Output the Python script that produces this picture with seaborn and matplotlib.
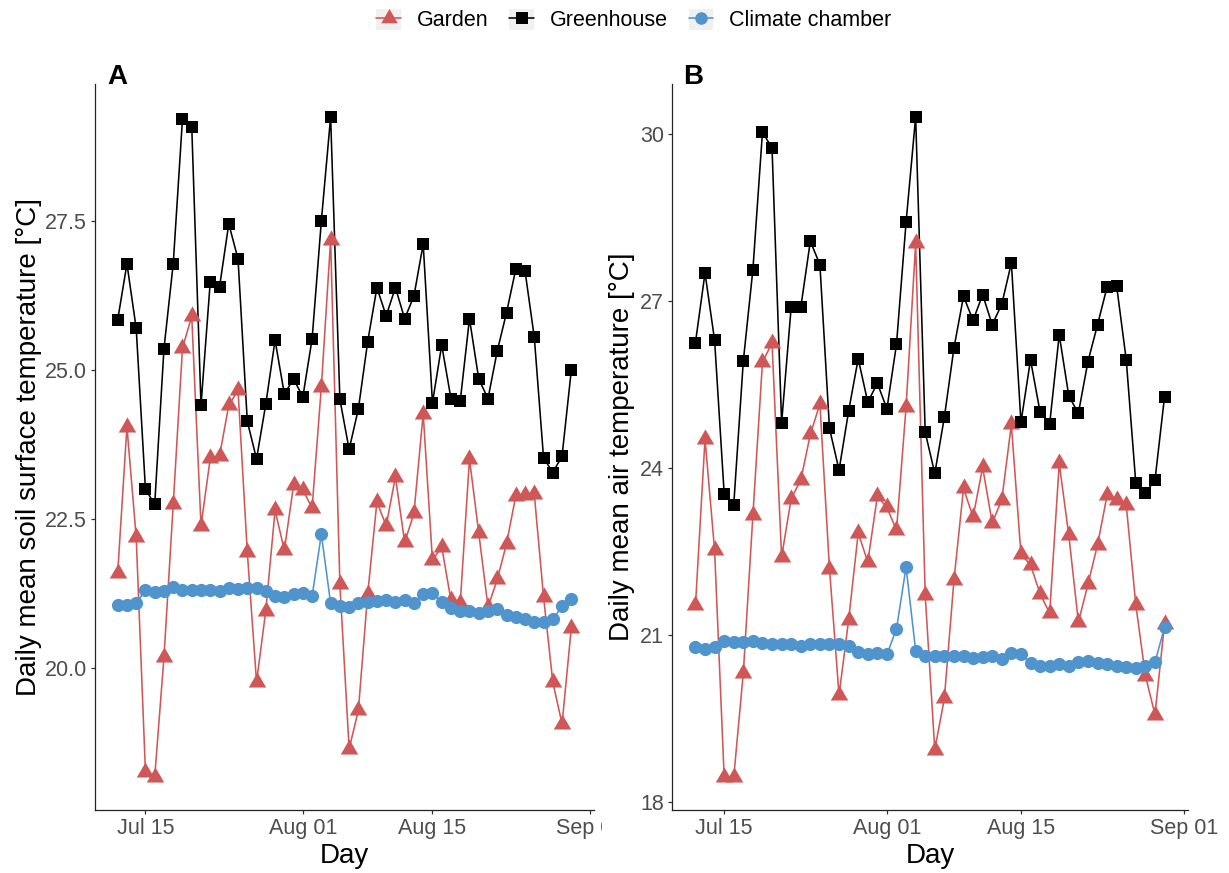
import numpy as np
import pandas as pd
import matplotlib
matplotlib.use("Agg")
import matplotlib.pyplot as plt
import matplotlib.dates as mdates
from matplotlib.lines import Line2D
from matplotlib.patches import Rectangle
from matplotlib.legend_handler import HandlerLine2D
from matplotlib.transforms import Bbox, TransformedBbox
import seaborn as sns

# ---------------- data ----------------
start_date = "2021-07-12"
end_date = "2021-08-30"
series_names = ["Garden", "Greenhouse", "Climate chamber"]

soil_garden = [21.6, 24.05, 22.2, 18.26, 18.18, 20.19, 22.75, 25.37, 25.9, 22.39,
               23.52, 23.56, 24.41, 24.66, 21.95, 19.77, 20.97, 22.65, 21.98, 23.07,
               22.99, 22.69, 24.72, 27.18, 21.41, 18.65, 19.30, 21.24, 22.79, 22.39,
               23.21, 22.11, 22.6, 24.27, 21.81, 22.04, 21.14, 21.09, 23.51, 22.27,
               21.03, 21.49, 22.09, 22.89, 22.9, 22.92, 21.2, 19.77, 19.07, 20.68]
soil_greenhouse = [25.84, 26.78, 25.70, 23.0, 22.75, 25.36, 26.78, 29.21, 29.08, 24.41,
                   26.48, 26.39, 27.45, 26.86, 24.14, 23.51, 24.43, 25.50, 24.60, 24.85,
                   24.55, 25.52, 27.50, 29.24, 24.51, 23.67, 24.35, 25.47, 26.38, 25.91,
                   26.38, 25.86, 26.24, 27.11, 24.45, 25.42, 24.52, 24.48, 25.86, 24.85,
                   24.52, 25.32, 25.96, 26.69, 26.66, 25.55, 23.53, 23.28, 23.56, 25.0]
soil_chamber = [21.06, 21.07, 21.09, 21.31, 21.28, 21.30, 21.36, 21.31, 21.31, 21.32,
                21.32, 21.30, 21.34, 21.33, 21.34, 21.35, 21.30, 21.22, 21.20, 21.25,
                21.26, 21.21, 22.25, 21.09, 21.04, 21.03, 21.10, 21.12, 21.13, 21.14,
                21.12, 21.15, 21.10, 21.24, 21.27, 21.12, 21.01, 20.97, 20.97, 20.92,
                20.97, 21.00, 20.89, 20.86, 20.82, 20.78, 20.78, 20.82, 21.04, 21.17]

air_garden = [21.53, 24.52, 22.52, 18.45, 18.45, 20.32, 23.15, 25.90, 26.24, 22.40,
              23.45, 23.78, 24.60, 25.15, 22.19, 19.92, 21.27, 22.83, 22.31, 23.49,
              23.29, 22.88, 25.09, 28.03, 21.71, 18.94, 19.86, 21.98, 23.63, 23.12,
              24.01, 23.01, 23.43, 24.78, 22.45, 22.26, 21.74, 21.39, 24.08, 22.79,
              21.23, 21.91, 22.62, 23.51, 23.43, 23.33, 21.54, 20.27, 19.57, 21.20]
air_greenhouse = [26.25, 27.5, 26.29, 23.54, 23.34, 25.92, 27.56, 30.03, 29.74, 24.81,
                  26.89, 26.88, 28.07, 27.65, 24.71, 23.96, 25.02, 25.96, 25.18, 25.52,
                  25.06, 26.22, 28.41, 30.30, 24.64, 23.90, 24.91, 26.15, 27.08, 26.65,
                  27.11, 26.57, 26.94, 27.68, 24.82, 25.94, 25.0, 24.79, 26.39, 25.29,
                  24.98, 25.91, 26.57, 27.25, 27.26, 25.94, 23.72, 23.55, 23.78, 25.28]
air_chamber = [20.78, 20.75, 20.78, 20.90, 20.87, 20.88, 20.90, 20.86, 20.84, 20.84,
               20.84, 20.81, 20.84, 20.84, 20.84, 20.83, 20.80, 20.69, 20.66, 20.67,
               20.65, 21.11, 22.22, 20.72, 20.63, 20.63, 20.63, 20.63, 20.62, 20.59,
               20.60, 20.62, 20.56, 20.67, 20.66, 20.50, 20.45, 20.45, 20.47, 20.45,
               20.51, 20.54, 20.50, 20.47, 20.44, 20.42, 20.41, 20.44, 20.51, 21.14]

x_ticks = ["2021-07-15", "2021-08-01", "2021-08-15", "2021-09-01"]
soil_yticks = [20.0, 22.5, 25.0, 27.5]
air_yticks = [18, 21, 24, 27, 30]

# ---------------- style ----------------
sns.set_theme(style="white")
plt.rcParams["font.family"] = ["Liberation Sans", "DejaVu Sans"]
plt.rcParams["text.color"] = "black"

colors = {"Garden": "#CF5757", "Greenhouse": "#000000", "Climate chamber": "#4F94CD"}
tri = [(0.0, 1.0), (-0.866, -0.5), (0.866, -0.5)]
markers = {"Garden": tri, "Greenhouse": "s", "Climate chamber": "o"}
msize = {"Garden": 14.5, "Greenhouse": 9.0, "Climate chamber": 9.5}

dates = pd.date_range(start_date, end_date, freq="D")

W, H = 1229, 873
fig = plt.figure(figsize=(W / 100, H / 100), dpi=100)
fig.patch.set_facecolor("white")

axA = fig.add_axes([95 / W, 63 / H, 499 / W, 726 / H])
axB = fig.add_axes([672 / W, 63 / H, 516 / W, 726 / H])

panels = [
    (axA, {"Garden": soil_garden, "Greenhouse": soil_greenhouse, "Climate chamber": soil_chamber},
     "Daily mean soil surface temperature [°C]", soil_yticks, "%.1f"),
    (axB, {"Garden": air_garden, "Greenhouse": air_greenhouse, "Climate chamber": air_chamber},
     "Daily mean air temperature [°C]", air_yticks, "%d"),
]

for ax, data, ylab, yticks, fmt in panels:
    df = pd.DataFrame({"Day": np.tile(dates, 3),
                       "Temp": np.concatenate([data[n] for n in series_names]),
                       "Site": np.repeat(series_names, len(dates))})
    for n in series_names:
        sub = df[df["Site"] == n]
        sns.lineplot(data=sub, x="Day", y="Temp", ax=ax, color=colors[n],
                     linewidth=1.15, zorder=2, legend=False)
    for n in series_names:
        sub = df[df["Site"] == n]
        sns.scatterplot(data=sub, x="Day", y="Temp", ax=ax, color=colors[n],
                        marker=markers[n], s=msize[n] ** 2, linewidth=0,
                        zorder=3, legend=False)
    vals = np.concatenate([data[n] for n in series_names])
    lo, hi = vals.min(), vals.max()
    pad = 0.05 * (hi - lo)
    ax.set_ylim(lo - pad, hi + pad)
    span = (dates[-1] - dates[0]) * 0.05
    ax.set_xlim(dates[0] - span, dates[-1] + span)
    ax.set_xticks(pd.to_datetime(x_ticks))
    ax.xaxis.set_major_formatter(mdates.DateFormatter("%b %d"))
    ax.set_yticks(yticks)
    ax.yaxis.set_major_formatter(matplotlib.ticker.FormatStrFormatter(fmt))
    for s in ["top", "right"]:
        ax.spines[s].set_visible(False)
    for s in ["left", "bottom"]:
        ax.spines[s].set_color("#222222")
        ax.spines[s].set_linewidth(0.9)
    ax.tick_params(axis="both", length=3.2, width=0.9, color="#333333",
                   labelcolor="#4D4D4D", labelsize=15.5, pad=2.5,
                   left=True, bottom=True)
    ax.set_xlabel("Day", fontsize=20, color="black")
    ax.set_ylabel(ylab, fontsize=20, color="black")
    ax.xaxis.set_label_coords(0.5, -0.046)
    ax.grid(False)

axA.yaxis.set_label_coords(-0.106, 0.5)
axB.yaxis.set_label_coords(-0.071, 0.5)

# clip the last x tick label of panel A at the panel border
clip = TransformedBbox(Bbox([[0, 0], [602 / W, 1]]), fig.transFigure)
for lab in axA.get_xticklabels():
    lab.set_clip_box(clip)
    lab.set_clip_on(True)

fig.text(107 / W, 1 - 84 / H, "A", fontsize=20, fontweight="bold", va="baseline", color="black")
fig.text(683 / W, 1 - 84 / H, "B", fontsize=20, fontweight="bold", va="baseline", color="black")


class KeyHandler(HandlerLine2D):
    def create_artists(self, legend, orig_handle, xdescent, ydescent, width,
                       height, fontsize, trans):
        arts = super().create_artists(legend, orig_handle, xdescent, ydescent,
                                      width, height, fontsize, trans)
        r = Rectangle((-xdescent, -ydescent), width, height, facecolor="#F0F0F0",
                      edgecolor="none", transform=trans)
        return [r] + list(arts)


handles = [Line2D([], [], color=colors[n], marker=markers[n], markersize=msize[n] * 0.95,
                  markeredgewidth=0, linewidth=1.15) for n in series_names]
leg = fig.legend(handles, series_names, loc="center", bbox_to_anchor=(634 / W, 1 - 20 / H),
                 ncol=3, frameon=False, fontsize=15.5, handlelength=1.15, handleheight=1.15,
                 handletextpad=0.75, columnspacing=0.95, borderpad=0.2,
                 handler_map={Line2D: KeyHandler(numpoints=1)})
for t in leg.get_texts():
    t.set_color("black")

fig.savefig("out.png", dpi=100, facecolor="white")
